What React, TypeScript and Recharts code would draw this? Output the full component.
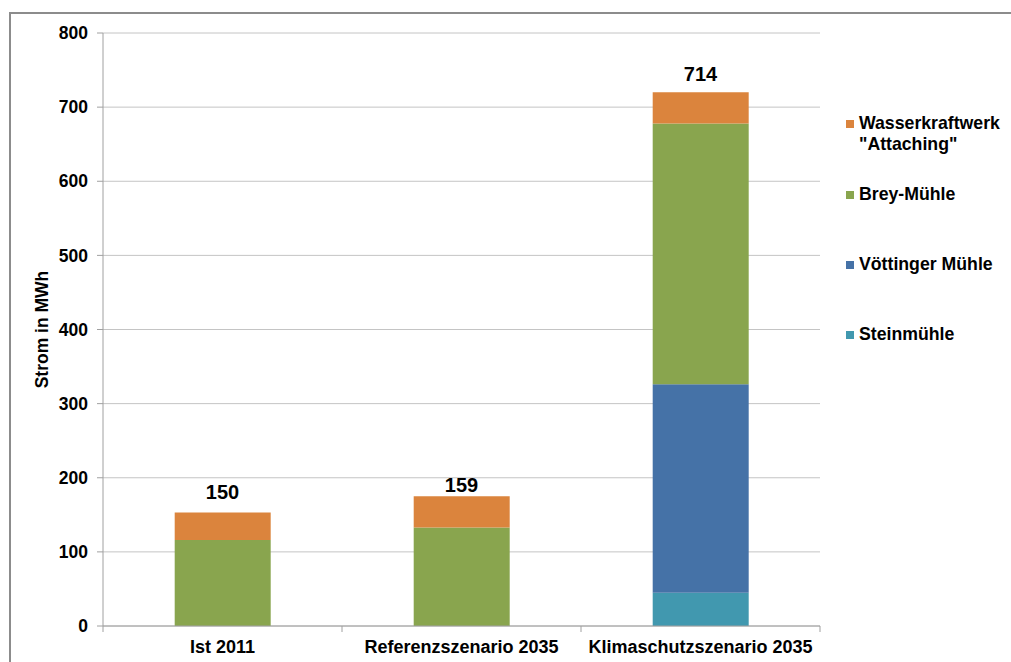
import React from 'react';
import { ComposedChart, Bar, Line, XAxis, YAxis, CartesianGrid, Legend, LabelList } from 'recharts';

const categories = ['Ist 2011', 'Referenzszenario 2035', 'Klimaschutzszenario 2035'];
const steinmuehle = [0, 0, 45];
const voettinger = [0, 0, 281];
const brey = [116, 133, 352];
const wasserkraft = [37, 42, 42];
const totals = [150, 159, 714];
const yTicks = [0, 100, 200, 300, 400, 500, 600, 700, 800];
const legendOrder = ['Wasserkraftwerk "Attaching"', 'Brey-Mühle', 'Vöttinger Mühle', 'Steinmühle'];

const font = '"Liberation Sans", Arial, sans-serif';

const data = categories.map((name, i) => ({
  name,
  stein: steinmuehle[i],
  voett: voettinger[i],
  brey: brey[i],
  wasser: wasserkraft[i],
  total: totals[i],
}));

const CategoryTick = (props: any) => {
  const { x, y, payload, index, visibleTicksCount } = props;
  const off = payload.offset || 0;
  return (
    <g>
      <line x1={x - off} x2={x - off} y1={y} y2={y + 6} stroke="#a0a0a0" />
      {index === visibleTicksCount - 1 && (
        <line x1={x + off} x2={x + off} y1={y} y2={y + 6} stroke="#a0a0a0" />
      )}
      <text x={x} y={y + 27} textAnchor="middle" fontFamily={font} fontWeight="bold" fontSize={18} fill="#000">
        {payload.value}
      </text>
    </g>
  );
};

const YLabel = (props: any) => {
  const { viewBox } = props;
  const cx = viewBox.x + 42;
  const cy = viewBox.y + viewBox.height / 2;
  return (
    <text x={cx} y={cy} transform={`rotate(-90, ${cx}, ${cy})`} textAnchor="middle" dominantBaseline="central"
      fontFamily={font} fontWeight="bold" fontSize={17.5} fill="#000">
      Strom in MWh
    </text>
  );
};

const gaps = [0, 29, 49, 49];

const renderLegend = (props: any) => {
  const items = (props.payload || [])
    .filter((p: any) => p.type !== 'none' && legendOrder.includes(p.value))
    .slice()
    .sort((a: any, b: any) => legendOrder.indexOf(a.value) - legendOrder.indexOf(b.value));
  return (
    <div style={{ fontFamily: font, fontWeight: 'bold', fontSize: 17.7, color: '#000' }}>
      {items.map((p: any, i: number) => (
        <div key={p.value} style={{ display: 'flex', alignItems: 'flex-start', marginTop: gaps[i], lineHeight: '21px' }}>
          <div style={{ width: 8, height: 8, background: p.color, marginTop: 7, marginRight: 5, flexShrink: 0 }} />
          <div style={{ width: 150 }}>{p.value}</div>
        </div>
      ))}
    </div>
  );
};

export default function App() {
  return (
    <div style={{ position: 'absolute', left: 0, top: 0, width: 1011, height: 662, overflow: 'hidden', background: '#fff' }}>
      <div style={{ position: 'absolute', left: 9, top: 12, width: 1100, height: 700, border: '2px solid #8c8c8c', boxSizing: 'border-box' }} />
      <div style={{ position: 'absolute', left: 0, top: 0 }}>
        <ComposedChart width={1011} height={662} data={data} barCategoryGap="30%"
          margin={{ top: 33, right: 26, bottom: 0, left: 0 }}>
          <CartesianGrid vertical={false} stroke="#c4c4c4" />
          <XAxis dataKey="name" height={36} tickLine={false} tickSize={0} tickMargin={0}
            axisLine={{ stroke: '#a0a0a0' }} tick={<CategoryTick />} interval={0} />
          <YAxis width={103} domain={[0, 800]} ticks={yTicks} interval={0}
            axisLine={{ stroke: '#a0a0a0' }} tickLine={{ stroke: '#a0a0a0' }} tickSize={6} tickMargin={9}
            tick={{ fill: '#000', fontFamily: font, fontWeight: 'bold', fontSize: 17.5 }}
            label={<YLabel />} />
          <Bar dataKey="stein" name="Steinmühle" stackId="a" fill="#4198AF" isAnimationActive={false} />
          <Bar dataKey="voett" name="Vöttinger Mühle" stackId="a" fill="#4572A7" isAnimationActive={false} />
          <Bar dataKey="brey" name="Brey-Mühle" stackId="a" fill="#89A54E" isAnimationActive={false} />
          <Bar dataKey="wasser" name={'Wasserkraftwerk "Attaching"'} stackId="a" fill="#DB843D" isAnimationActive={false} />
          <Line dataKey="total" stroke="none" dot={false} activeDot={false} legendType="none" isAnimationActive={false}>
            <LabelList dataKey="total" position="top" offset={16}
              style={{ fontFamily: font, fontWeight: 'bold', fontSize: 20, fill: '#000' }} />
          </Line>
          <Legend layout="vertical" align="right" verticalAlign="top" content={renderLegend}
            wrapperStyle={{ left: 846, top: 113, width: 165 }} />
        </ComposedChart>
      </div>
    </div>
  );
}
